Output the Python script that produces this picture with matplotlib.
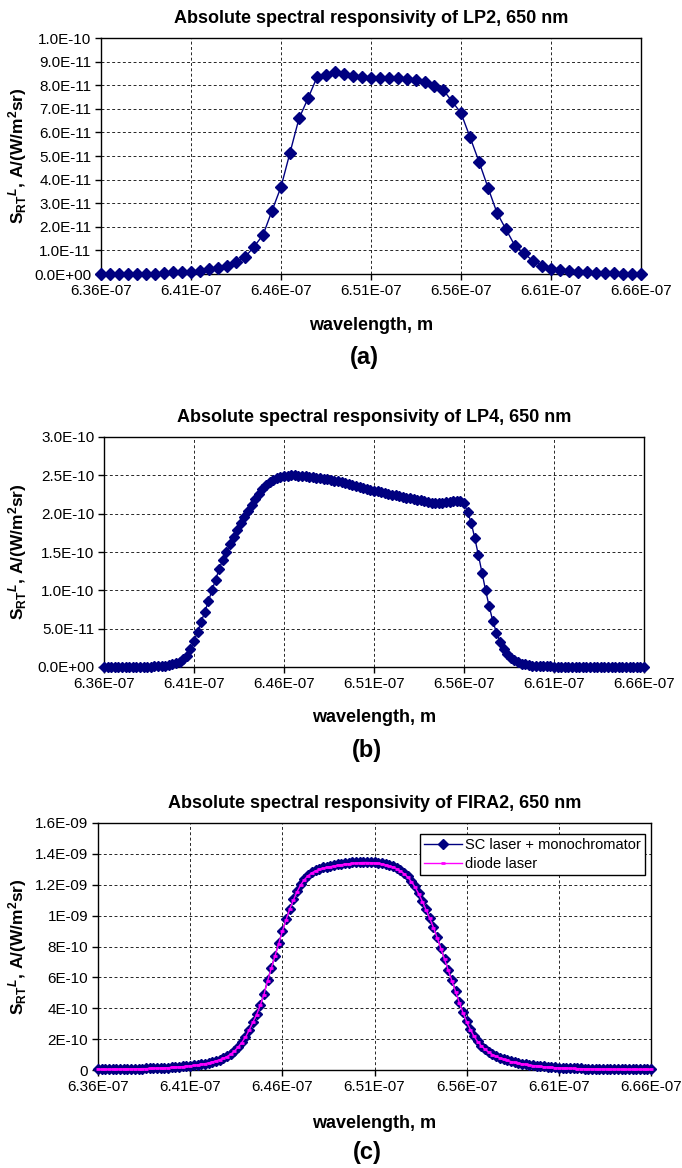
import numpy as np
import matplotlib
matplotlib.use('Agg')
import matplotlib.pyplot as plt
from matplotlib import font_manager
from matplotlib.ticker import FuncFormatter

# ---- data -------------------------------------------------------------
# wavelength grid ends, nm
wl_start, wl_end = 636.0, 666.0

# (a) LP2, step 0.5 nm, units 1e-11 A/(W/m2 sr)
lp2 = [0.00, 0.00, 0.00, 0.00, 0.00, 0.01, 0.02, 0.04, 0.07, 0.09,   # 636-640.5
       0.10, 0.14, 0.20, 0.27, 0.36, 0.50, 0.71, 1.16, 1.65, 2.68,   # 641-645.5
       3.69, 5.14, 6.59, 7.44, 8.34, 8.44, 8.58, 8.49, 8.41, 8.35,   # 646-650.5
       8.31, 8.31, 8.31, 8.30, 8.27, 8.20, 8.13, 7.95, 7.81, 7.32,   # 651-655.5
       6.82, 5.80, 4.76, 3.66, 2.59, 1.89, 1.19, 0.88, 0.55, 0.36,   # 656-660.5
       0.23, 0.18, 0.14, 0.10, 0.07, 0.06, 0.04, 0.03, 0.02, 0.01,   # 661-665.5
       0.01]
lp2_scale = 1e-11

# (b) LP4, step 0.2 nm, units 1e-10
lp4 = [0.000, 0.000, 0.000, 0.000, 0.001,   # 636
       0.001, 0.001, 0.001, 0.002, 0.002,   # 637
       0.003, 0.003, 0.004, 0.005, 0.007,   # 638
       0.009, 0.012, 0.017, 0.024, 0.034,   # 639
       0.048, 0.068, 0.098, 0.140, 0.230,   # 640
       0.340, 0.460, 0.590, 0.720, 0.860,   # 641
       1.000, 1.140, 1.280, 1.400, 1.500,   # 642
       1.600, 1.700, 1.790, 1.880, 1.960,   # 643
       2.040, 2.110, 2.190, 2.260, 2.320,   # 644
       2.370, 2.410, 2.440, 2.465, 2.480,   # 645
       2.490, 2.497, 2.500, 2.500, 2.497,   # 646
       2.493, 2.488, 2.482, 2.476, 2.470,   # 647
       2.463, 2.455, 2.447, 2.438, 2.430,   # 648
       2.420, 2.410, 2.400, 2.385, 2.370,   # 649
       2.360, 2.350, 2.335, 2.325, 2.310,   # 650
       2.300, 2.290, 2.280, 2.270, 2.260,   # 651
       2.250, 2.240, 2.230, 2.220, 2.210,   # 652
       2.200, 2.190, 2.180, 2.175, 2.165,   # 653
       2.155, 2.145, 2.140, 2.140, 2.145,   # 654
       2.150, 2.155, 2.160, 2.165, 2.160,   # 655
       2.135, 2.020, 1.880, 1.680, 1.460,   # 656
       1.230, 1.000, 0.790, 0.600, 0.450,   # 657
       0.330, 0.240, 0.170, 0.120, 0.085,   # 658
       0.060, 0.045, 0.033, 0.025, 0.019,   # 659
       0.015, 0.012, 0.010, 0.008, 0.007,   # 660
       0.006, 0.005, 0.005, 0.005, 0.005,   # 661
       0.005, 0.004, 0.004, 0.004, 0.004,   # 662
       0.004, 0.004, 0.004, 0.004, 0.004,   # 663
       0.004, 0.003, 0.003, 0.003, 0.003,   # 664
       0.003, 0.003, 0.003, 0.003, 0.003,   # 665
       0.003]
lp4_scale = 1e-10

# (c) FIRA2, step 0.2 nm, units 1e-9
fira_sc = [0.005, 0.005, 0.005, 0.005, 0.006,   # 636
           0.006, 0.006, 0.007, 0.007, 0.008,   # 637
           0.008, 0.009, 0.009, 0.010, 0.011,   # 638
           0.012, 0.013, 0.014, 0.015, 0.016,   # 639
           0.018, 0.019, 0.021, 0.023, 0.025,   # 640
           0.028, 0.031, 0.034, 0.038, 0.042,   # 641
           0.047, 0.053, 0.060, 0.068, 0.077,   # 642
           0.088, 0.105, 0.125, 0.150, 0.180,   # 643
           0.215, 0.260, 0.310, 0.360, 0.420,   # 644
           0.490, 0.580, 0.660, 0.740, 0.820,   # 645
           0.900, 0.975, 1.045, 1.105, 1.160,   # 646
           1.205, 1.240, 1.265, 1.283, 1.296,   # 647
           1.305, 1.312, 1.318, 1.323, 1.328,   # 648
           1.332, 1.336, 1.339, 1.342, 1.345,   # 649
           1.347, 1.349, 1.350, 1.350, 1.349,   # 650
           1.347, 1.344, 1.340, 1.335, 1.329,   # 651
           1.321, 1.310, 1.296, 1.278, 1.255,   # 652
           1.225, 1.190, 1.145, 1.095, 1.040,   # 653
           0.985, 0.925, 0.860, 0.790, 0.720,   # 654
           0.650, 0.580, 0.510, 0.440, 0.375,   # 655
           0.315, 0.265, 0.220, 0.185, 0.158,   # 656
           0.135, 0.117, 0.102, 0.090, 0.080,   # 657
           0.071, 0.064, 0.057, 0.051, 0.046,   # 658
           0.042, 0.038, 0.034, 0.031, 0.028,   # 659
           0.025, 0.023, 0.021, 0.019, 0.017,   # 660
           0.016, 0.014, 0.013, 0.012, 0.011,   # 661
           0.010, 0.010, 0.009, 0.009, 0.008,   # 662
           0.008, 0.007, 0.007, 0.007, 0.006,   # 663
           0.006, 0.006, 0.006, 0.005, 0.005,   # 664
           0.005, 0.005, 0.005, 0.005, 0.005,   # 665
           0.005]
fira_diode = [0.004, 0.004, 0.004, 0.005, 0.005,   # 636
              0.005, 0.006, 0.006, 0.007, 0.007,   # 637
              0.008, 0.008, 0.009, 0.009, 0.010,   # 638
              0.011, 0.012, 0.013, 0.014, 0.015,   # 639
              0.017, 0.018, 0.020, 0.022, 0.024,   # 640
              0.027, 0.030, 0.033, 0.037, 0.041,   # 641
              0.046, 0.052, 0.059, 0.067, 0.076,   # 642
              0.087, 0.103, 0.123, 0.148, 0.178,   # 643
              0.213, 0.258, 0.308, 0.358, 0.418,   # 644
              0.488, 0.578, 0.658, 0.738, 0.818,   # 645
              0.898, 0.972, 1.042, 1.101, 1.155,   # 646
              1.200, 1.234, 1.259, 1.277, 1.290,   # 647
              1.299, 1.306, 1.312, 1.317, 1.322,   # 648
              1.326, 1.330, 1.333, 1.336, 1.339,   # 649
              1.341, 1.343, 1.344, 1.344, 1.343,   # 650
              1.341, 1.338, 1.334, 1.329, 1.323,   # 651
              1.315, 1.304, 1.290, 1.272, 1.249,   # 652
              1.220, 1.185, 1.141, 1.091, 1.037,   # 653
              0.982, 0.922, 0.857, 0.787, 0.717,   # 654
              0.647, 0.577, 0.507, 0.437, 0.372,   # 655
              0.312, 0.262, 0.218, 0.183, 0.156,   # 656
              0.133, 0.115, 0.100, 0.088, 0.078,   # 657
              0.069, 0.062, 0.055, 0.049, 0.044,   # 658
              0.040, 0.036, 0.032, 0.029, 0.026,   # 659
              0.023, 0.021, 0.019, 0.017, 0.015,   # 660
              0.014, 0.013, 0.012, 0.011, 0.010,   # 661
              0.009, 0.009, 0.008, 0.008, 0.007,   # 662
              0.007, 0.006, 0.006, 0.006, 0.005,   # 663
              0.005, 0.005, 0.005, 0.004, 0.004,   # 664
              0.004, 0.004, 0.004, 0.004, 0.004,   # 665
              0.004]
fira_scale = 1e-9

xtick_vals = [6.36e-7, 6.41e-7, 6.46e-7, 6.51e-7, 6.56e-7, 6.61e-7, 6.66e-7]
ytick_a = [0, 1e-11, 2e-11, 3e-11, 4e-11, 5e-11, 6e-11, 7e-11, 8e-11, 9e-11, 1e-10]
ytick_b = [0, 5e-11, 1e-10, 1.5e-10, 2e-10, 2.5e-10, 3e-10]
ytick_c = [0, 2e-10, 4e-10, 6e-10, 8e-10, 1e-9, 1.2e-9, 1.4e-9, 1.6e-9]

titles = ['Absolute spectral responsivity of LP2, 650 nm',
          'Absolute spectral responsivity of LP4, 650 nm',
          'Absolute spectral responsivity of FIRA2, 650 nm']
panel_tags = ['(a)', '(b)', '(c)']
legend_labels = ['SC laser + monochromator', 'diode laser']

# ---- fonts ------------------------------------------------------------
names = {f.name for f in font_manager.fontManager.ttflist}
narrow = 'Liberation Sans Narrow' if 'Liberation Sans Narrow' in names else 'Liberation Sans'
plt.rcParams['font.family'] = [narrow, 'DejaVu Sans']
plt.rcParams['mathtext.fontset'] = 'custom'
plt.rcParams['mathtext.rm'] = 'Liberation Sans:bold'
plt.rcParams['mathtext.it'] = 'Liberation Sans:italic:bold'
plt.rcParams['mathtext.bf'] = 'Liberation Sans:bold'

navy = '#000080'
ylab = r'$\mathrm{S}_{\mathrm{RT}}{}^{L}$, A/(W/m$^{\mathrm{2}}$sr)'


def fmt_1dec(v, pos):
    return f'{v:.1E}'


def fmt_general(v, pos):
    if abs(v) < 1e-20:
        return '0'
    return f'{v:.1E}'.replace('.0E', 'E')


def fmt_x(v, pos):
    return f'{v:.2E}'


def grid_axis(n):
    return np.linspace(wl_start, wl_end, n) * 1e-9


fig = plt.figure(figsize=(6.82, 11.68), dpi=100)
W, H = 682.0, 1168.0
# axes boxes in pixels (left, top, right, bottom) and label rows (xlabel y, tag y)
boxes = [(101, 38, 641, 274), (104, 437, 644, 667), (98, 823, 651, 1070)]
xlabel_y = [325, 718, 1123]
tag_y = [358, 750, 1152]
axes = []
for (l, t, r, b) in boxes:
    axes.append(fig.add_axes([l / W, 1 - b / H, (r - l) / W, (b - t) / H]))

# (a)
ax = axes[0]
ax.plot(grid_axis(len(lp2)), np.array(lp2) * lp2_scale, color=navy, lw=1.0,
        marker='D', ms=6.5, mfc=navy, mec=navy, clip_on=False, zorder=3)
ax.set_ylim(0, 1e-10)
ax.set_yticks(ytick_a)
ax.yaxis.set_major_formatter(FuncFormatter(fmt_1dec))

# (b)
ax = axes[1]
ax.plot(grid_axis(len(lp4)), np.array(lp4) * lp4_scale, color=navy, lw=1.0,
        marker='D', ms=5.5, mfc=navy, mec=navy, clip_on=False, zorder=3)
ax.set_ylim(0, 3e-10)
ax.set_yticks(ytick_b)
ax.yaxis.set_major_formatter(FuncFormatter(fmt_1dec))

# (c)
ax = axes[2]
ax.plot(grid_axis(len(fira_sc)), np.array(fira_sc) * fira_scale, color=navy, lw=1.0,
        marker='D', ms=5.5, mfc=navy, mec=navy, clip_on=False, zorder=3,
        label=legend_labels[0])
ax.plot(grid_axis(len(fira_diode)), np.array(fira_diode) * fira_scale, color='#FF00FF', lw=1.0,
        marker='_', ms=3, mew=2, clip_on=False, zorder=4, label=legend_labels[1])
ax.set_ylim(0, 1.6e-9)
ax.set_yticks(ytick_c)
ax.yaxis.set_major_formatter(FuncFormatter(fmt_general))
leg = ax.legend(loc='upper right', bbox_to_anchor=(0.989, 0.955), fontsize=10.5,
                frameon=True, fancybox=False, edgecolor='black', framealpha=1,
                handlelength=2.6, borderpad=0.3, labelspacing=0.3, handletextpad=0.2,
                borderaxespad=0.0)
leg.get_frame().set_linewidth(1.0)

for i, ax in enumerate(axes):
    l, t, r, b = boxes[i]
    ax.set_xlim(6.36e-7, 6.66e-7)
    ax.set_xticks(xtick_vals)
    ax.xaxis.set_major_formatter(FuncFormatter(fmt_x))
    ax.grid(True, color='black', linestyle=(0, (3, 2.5)), linewidth=0.7, alpha=0.85)
    ax.set_axisbelow(True)
    for s in ax.spines.values():
        s.set_color('black')
        s.set_linewidth(1.0)
    ax.tick_params(direction='out', length=4, width=1, labelsize=11, pad=3, colors='black')
    ax.set_title(titles[i], fontsize=13, fontweight='bold', pad=11)
    ax.set_xlabel('wavelength, m', fontsize=13, fontweight='bold')
    ax.xaxis.set_label_coords(0.5, -(xlabel_y[i] - b) / (b - t), transform=ax.transAxes)
    ax.xaxis.label.set_va('center')
    ax.set_ylabel(ylab, fontsize=12.5, fontweight='bold', family='Liberation Sans')
    ax.yaxis.set_label_coords((29 - l) / (r - l), 0.5)
    fig.text((l + r) / 2 / W - 0.01, 1 - tag_y[i] / H, panel_tags[i], ha='center', va='center',
             fontsize=17, fontweight='bold', family='Liberation Sans')

fig.savefig('out.png', dpi=100)
